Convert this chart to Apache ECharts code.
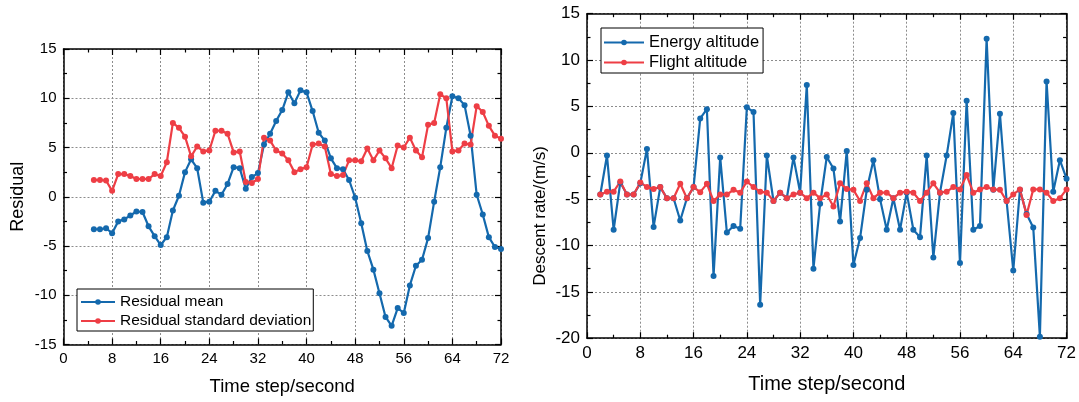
<!DOCTYPE html>
<html>
<head>
<meta charset="utf-8">
<script src="https://cdn.jsdelivr.net/npm/echarts@6/dist/echarts.min.js"></script>
<style>
  html, body { margin: 0; padding: 0; background: #fff; }
  #chart { width: 1079px; height: 402px; }
</style>
</head>
<body>
<div id="chart"></div>
<script>
// Left panel: residual statistics per time step
const residualSteps = [5, 6, 7, 8, 9, 10, 11, 12, 13, 14, 15, 16, 17, 18, 19, 20, 21, 22, 23, 24,
  25, 26, 27, 28, 29, 30, 31, 32, 33, 34, 35, 36, 37, 38, 39, 40, 41, 42, 43, 44,
  45, 46, 47, 48, 49, 50, 51, 52, 53, 54, 55, 56, 57, 58, 59, 60, 61, 62, 63, 64,
  65, 66, 67, 68, 69, 70, 71, 72];
const residualMean = [-3.3, -3.3, -3.2, -3.7, -2.5, -2.3, -1.9, -1.5, -1.55, -3.0, -4.0, -4.9, -4.1, -1.4, 0.1, 2.5, 3.8, 2.9, -0.6, -0.5,
  0.6, 0.2, 1.3, 3.0, 2.9, 0.8, 2.0, 2.4, 5.3, 6.4, 7.7, 8.8, 10.6, 9.5, 10.8, 10.6, 8.7, 6.5, 5.7, 3.9,
  2.9, 2.8, 1.7, -0.1, -2.7, -5.5, -7.4, -9.8, -12.2, -13.1, -11.3, -11.8, -9.0, -7.0, -6.4, -4.2, -0.5, 3.0, 7.0, 10.2,
  10.0, 9.3, 6.2, 0.2, -1.8, -4.1, -5.1, -5.3];
const residualStd = [1.7, 1.7, 1.65, 0.6, 2.3, 2.3, 2.1, 1.8, 1.8, 1.8, 2.3, 2.1, 3.5, 7.5, 7.0, 6.1, 4.1, 5.1, 4.6, 4.7,
  6.7, 6.7, 6.4, 4.5, 4.6, 1.5, 1.4, 1.8, 6.0, 5.7, 4.7, 4.4, 3.7, 2.5, 2.8, 3.0, 5.3, 5.4, 5.1, 2.3,
  2.1, 2.2, 3.7, 3.7, 3.6, 4.9, 3.7, 4.7, 3.9, 2.9, 5.2, 5.0, 6.0, 4.7, 4.0, 7.3, 7.5, 10.4, 10.0, 4.6,
  4.7, 5.4, 5.3, 9.2, 8.6, 7.2, 6.2, 5.9];

// Right panel: descent rate per time step
const descentSteps = [2, 3, 4, 5, 6, 7, 8, 9, 10, 11, 12, 13, 14, 15, 16, 17, 18, 19, 20, 21,
  22, 23, 24, 25, 26, 27, 28, 29, 30, 31, 32, 33, 34, 35, 36, 37, 38, 39, 40, 41,
  42, 43, 44, 45, 46, 47, 48, 49, 50, 51, 52, 53, 54, 55, 56, 57, 58, 59, 60, 61,
  62, 63, 64, 65, 66, 67, 68, 69, 70, 71, 72];
const energyAltitude = [-4.5, -0.3, -8.3, -3.2, -4.5, -4.5, -3.3, 0.4, -8.0, -3.7, -4.9, -4.9, -7.3, -4.9, -3.7, 3.7, 4.7, -13.3, -0.5, -8.6,
  -7.9, -8.2, 4.9, 4.4, -16.4, -0.3, -5.2, -4.3, -4.9, -0.5, -4.3, 7.3, -12.5, -5.5, -0.45, -1.7, -7.4, 0.2, -12.1, -9.2,
  -4.0, -0.8, -5.0, -8.3, -4.9, -8.3, -4.3, -8.3, -9.1, -0.3, -11.3, -4.3, -0.3, 4.3, -11.9, 5.6, -8.3, -7.9, 12.3, -4.0,
  4.2, -5.2, -12.7, -4.0, -6.6, -8.05, -19.85, 7.7, -4.2, -0.8, -2.8];
const flightAltitude = [-4.5, -4.2, -4.2, -3.1, -4.5, -4.5, -3.2, -3.7, -3.9, -3.7, -4.9, -4.9, -3.35, -4.9, -3.7, -4.25, -3.35, -5.2, -4.5, -4.5,
  -4.0, -4.3, -3.1, -3.7, -4.2, -4.3, -5.2, -4.3, -4.9, -4.5, -4.3, -4.9, -4.3, -4.9, -4.5, -5.8, -3.3, -3.9, -4.0, -5.2,
  -3.3, -4.9, -4.3, -4.3, -4.9, -4.3, -4.2, -4.3, -5.2, -4.3, -3.3, -4.3, -4.2, -3.7, -3.95, -2.4, -4.3, -3.95, -3.7, -3.95,
  -4.0, -5.2, -4.5, -3.95, -6.7, -3.95, -3.95, -4.3, -5.2, -4.9, -3.95];

const xTicks = { min: 0, max: 72, interval: 8 };
const residualTicks = { min: -15, max: 15, interval: 5 };
const descentTicks = { min: -20, max: 15, interval: 5 };

const BLUE = '#1469ad';
const RED = '#ee3e45';
const FONT = '"Liberation Sans", Arial, sans-serif';

function pairs(xs, ys) { return xs.map((x, i) => [x, ys[i]]); }

function axisBase(gridIndex, range, position, withLabels, labelSize) {
  return {
    type: 'value',
    gridIndex: gridIndex,
    position: position,
    min: range.min, max: range.max, interval: range.interval,
    axisLine: { show: true, onZero: false, lineStyle: { color: '#000', width: 1.5 } },
    axisTick: { show: true, inside: true, length: 6, lineStyle: { color: '#000', width: 1.2 } },
    minorTick: { show: true, splitNumber: 2, length: 3.5, lineStyle: { color: '#000', width: 1.2 } },
    axisLabel: { show: withLabels, color: '#000', fontSize: labelSize, fontFamily: FONT, margin: 7 },
    splitLine: { show: withLabels, lineStyle: { color: '#8c8c8c', width: 1, type: [2, 2] } },
    minorSplitLine: { show: false }
  };
}

function lineSeries(name, data, color, xi, yi) {
  return {
    name: name, type: 'line', data: data,
    xAxisIndex: xi, yAxisIndex: yi,
    symbol: 'circle', symbolSize: 6, showSymbol: true,
    lineStyle: { color: color, width: 2.2 },
    itemStyle: { color: color },
    emphasis: { disabled: true }
  };
}

const chart = echarts.init(document.getElementById('chart'), null, { renderer: 'canvas' });

const xLeft = axisBase(0, xTicks, 'bottom', true, 15);
Object.assign(xLeft, { name: 'Time step/second', nameLocation: 'middle', nameGap: 33,
  nameTextStyle: { color: '#000', fontSize: 18.5, fontFamily: FONT } });
const yLeft = axisBase(0, residualTicks, 'left', true, 15);
Object.assign(yLeft, { name: 'Residual', nameLocation: 'middle', nameGap: 36,
  nameTextStyle: { color: '#000', fontSize: 18, fontFamily: FONT } });
const xRight = axisBase(1, xTicks, 'bottom', true, 17);
Object.assign(xRight, { name: 'Time step/second', nameLocation: 'middle', nameGap: 36,
  nameTextStyle: { color: '#000', fontSize: 20, fontFamily: FONT } });
const yRight = axisBase(1, descentTicks, 'left', true, 17);
// the title sits lower than the axis centre; right padding shifts the rotated text downward
Object.assign(yRight, { name: 'Descent rate/(m/s)', nameLocation: 'middle', nameGap: 38,
  nameTextStyle: { color: '#000', fontSize: 17, fontFamily: FONT, padding: [0, 80, 0, 0] } });

chart.setOption({
  animation: false,
  backgroundColor: '#fff',
  grid: [
    { left: 63.5, right: 578, top: 49, bottom: 57.5 },
    { left: 587, right: 12.3, top: 13.7, bottom: 63.8 }
  ],
  xAxis: [
    xLeft,
    axisBase(0, xTicks, 'top', false, 15),
    xRight,
    axisBase(1, xTicks, 'top', false, 17)
  ],
  yAxis: [
    yLeft,
    axisBase(0, residualTicks, 'right', false, 15),
    yRight,
    axisBase(1, descentTicks, 'right', false, 17)
  ],
  legend: [
    {
      data: ['Residual mean', 'Residual standard deviation'],
      orient: 'vertical', left: 77, top: 289,
      backgroundColor: '#fff', borderColor: '#000', borderWidth: 1, borderRadius: 0,
      padding: [5, 2, 2, 3], itemGap: 3, itemWidth: 34, itemHeight: 7,
      textStyle: { color: '#000', fontSize: 15.5, fontFamily: FONT },
      selectedMode: false
    },
    {
      data: ['Energy altitude', 'Flight altitude'],
      orient: 'vertical', left: 601, top: 28,
      backgroundColor: '#fff', borderColor: '#000', borderWidth: 1, borderRadius: 0,
      padding: [6, 4, 2, 2], itemGap: 3, itemWidth: 40, itemHeight: 7,
      textStyle: { color: '#000', fontSize: 16.5, fontFamily: FONT },
      selectedMode: false
    }
  ],
  series: [
    lineSeries('Residual mean', pairs(residualSteps, residualMean), BLUE, 0, 0),
    lineSeries('Residual standard deviation', pairs(residualSteps, residualStd), RED, 0, 0),
    lineSeries('Energy altitude', pairs(descentSteps, energyAltitude), BLUE, 2, 2),
    lineSeries('Flight altitude', pairs(descentSteps, flightAltitude), RED, 2, 2)
  ]
});
</script>
</body>
</html>
